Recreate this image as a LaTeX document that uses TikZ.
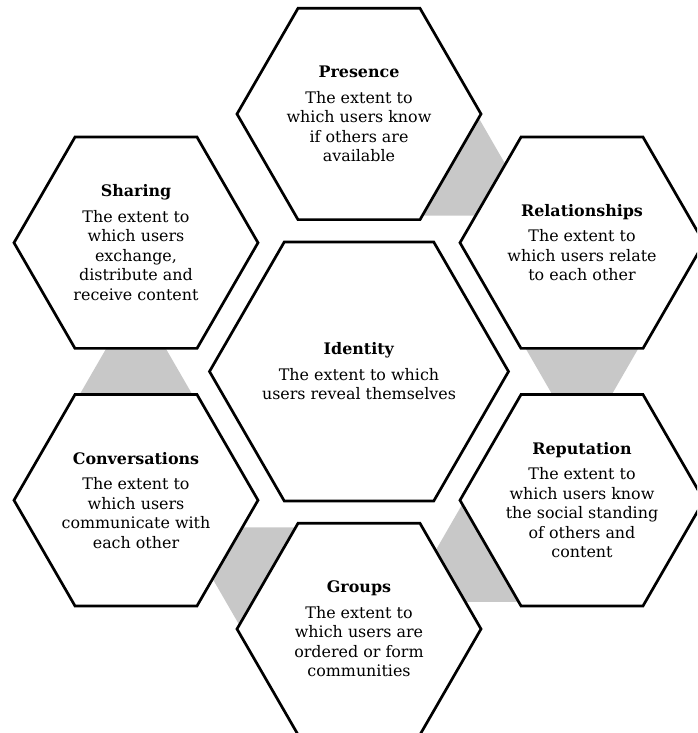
\documentclass[tikz,border=0pt]{standalone}
\usepackage{fontspec}
\setmainfont{DejaVu Serif}
\usetikzlibrary{shapes.geometric,calc,backgrounds}

\definecolor{linkgray}{RGB}{200,200,200}

\tikzset{
  hexcell/.style={regular polygon, regular polygon sides=6,
    minimum size=244pt, inner sep=0pt, outer sep=0pt,
    draw=black, line width=2.7pt, fill=white},
  hexcore/.style={hexcell, minimum size=299pt},
  hextext/.style={inner sep=0pt, align=center,
    font=\fontsize{15.9}{19.5}\selectfont},
  link/.style={fill=linkgray, draw=none},
}

% bold heading above the description of a cell
\newcommand{\hexhead}[1]{\textbf{#1}\\[6pt]}

% gray wedge from the edge of one cell towards the next cell
\newcommand{\hexlink}[2]{%
  \coordinate (lk-base) at ($(#1.center)!97.7pt!(#2.center)$);
  \coordinate (lk-tip) at ($(#1.center)!203.3pt!(#2.center)$);
  \fill[link] ($(lk-base)!61pt!90:(lk-tip)$) -- ($(lk-base)!61pt!-90:(lk-tip)$) -- (lk-tip) -- cycle;
}

\begin{document}
\begin{tikzpicture}[x=1pt,y=1pt]
  \useasboundingbox (0,0) rectangle (697,733);
  \clip (0,0) rectangle (697,733);

  % cells
  \node[hexcore] (id) at (359,361.5) {};
  \node[hexcell] (pres) at ($(id.center)+(90:257.5)$) {};
  \node[hexcell] (rel)  at ($(id.center)+(30:257.5)$) {};
  \node[hexcell] (rep)  at ($(id.center)+(-30:257.5)$) {};
  \node[hexcell] (grp)  at ($(id.center)+(-90:257.5)$) {};
  \node[hexcell] (conv) at ($(id.center)+(-150:257.5)$) {};
  \node[hexcell] (shar) at ($(id.center)+(150:257.5)$) {};

  % texts
  \node[hextext] (id-t) at (id.center)
    {\hexhead{Identity}The extent to which\\users reveal themselves};
  \node[hextext] (pres-t) at (pres.center)
    {\hexhead{Presence}The extent to\\which users know\\if others are\\available};
  \node[hextext] (rel-t) at (rel.center)
    {\hexhead{Relationships}The extent to\\which users relate\\to each other};
  \node[hextext] (rep-t) at (rep.center)
    {\hexhead{Reputation}The extent to\\which users know\\the social standing\\of others and\\content};
  \node[hextext] (grp-t) at (grp.center)
    {\hexhead{Groups}The extent to\\which users are\\ordered or form\\communities};
  \node[hextext] (conv-t) at (conv.center)
    {\hexhead{Conversations}The extent to\\which users\\communicate with\\each other};
  \node[hextext] (shar-t) at (shar.center)
    {\hexhead{Sharing}The extent to\\which users\\exchange,\\distribute and\\receive content};

  % links behind the cells
  \begin{scope}[on background layer]
    \hexlink{pres}{rel}
    \hexlink{rel}{rep}
    \hexlink{rep}{grp}
    \hexlink{grp}{conv}
    \hexlink{conv}{shar}
  \end{scope}
\end{tikzpicture}
\end{document}
